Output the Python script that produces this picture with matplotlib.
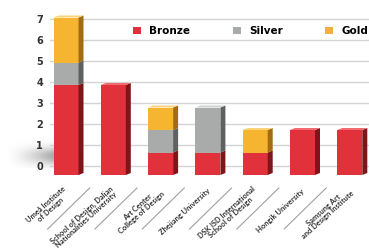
import numpy as np
import matplotlib.pyplot as plt
from matplotlib.patches import Polygon, Rectangle, Patch

# medal counts per school
schools = ['Umeå Institute\nof Design', 'School of Design, Dalian\nNationalities University',
           'Art Center\nCollege of Design', 'Zhejiang University',
           'DSK ISD International\nSchool of Design', 'Hongik University',
           'Samsung Art\nand Design Institute']
bronze = [4, 4, 1, 1, 1, 2, 2]
silver = [1, 0, 1, 2, 0, 0, 0]
gold = [2, 0, 1, 0, 1, 0, 0]
yticks = [0, 1, 2, 3, 4, 5, 6, 7]

# front, side, top colours
cols = {
    'Bronze': ('#e1323b', '#7d161b', '#f06a70'),
    'Silver': ('#a9abab', '#5f6161', '#cfd0d0'),
    'Gold': ('#f6b530', '#a26c12', '#fad27a'),
}

W, H = 369, 252
fig = plt.figure(figsize=(W / 100, H / 100), dpi=100)
fig.patch.set_facecolor('white')

# axes placement in pixels
x_left, y_top, y_bot = 50, 8, 180
pos = [x_left / W, 1 - y_bot / H, 1 - x_left / W, (y_bot - y_top) / H]

# soft shadow to the left of the first bar
sh = fig.add_axes([6 / W, 1 - 168 / H, 50 / W, 32 / H])
gx = np.linspace(0, 1, 60)[None, :] ** 1.4
gy = np.exp(-((np.linspace(-1, 1, 40)[:, None] - 0.25) / 0.55) ** 2)
img = np.zeros((40, 60, 4))
img[..., :3] = 0.45
img[..., 3] = 0.65 * gx * gy
sh.imshow(img, aspect='auto', interpolation='bilinear')
sh.axis('off')

# grid / tick axis
ax = fig.add_axes(pos)
ax.set_facecolor('none')
step = 47.3
ax.set_xlim((x_left - 66) / step, (W - 66) / step)
ax.set_ylim((166 - y_bot) / 21, (166 - y_top) / 21)
for v in yticks:
    ax.axhline(v, color='#d4d4d4', lw=1.0, zorder=0)
ax.set_yticks(yticks)
ax.set_yticklabels([str(v) for v in yticks], fontsize=7, fontweight='bold', color='#333333')
ax.tick_params(axis='y', length=0, pad=5)
ax.set_xticks([])
for s in ax.spines.values():
    s.set_visible(False)

# bars axis (perspective makes the bars a bit taller than the tick scale)
bx = fig.add_axes(pos, sharex=ax)
bx.set_facecolor('none')
bx.set_ylim((175 - y_bot) / 22.5, (175 - y_top) / 22.5)
bx.axis('off')

w = 25 / step
dx, dy = 5 / step, 2 / 22.5
x = np.arange(len(schools))
for i in x:
    base = 0
    segs = [('Bronze', bronze[i]), ('Silver', silver[i]), ('Gold', gold[i])]
    segs = [s for s in segs if s[1] > 0]
    for j, (name, h) in enumerate(segs):
        front, side, top = cols[name]
        x0, x1 = i - w / 2, i + w / 2
        bx.add_patch(Rectangle((x0, base), w, h, facecolor=front, lw=0))
        bx.add_patch(Polygon([(x1, base), (x1 + dx, base + dy), (x1 + dx, base + h + dy), (x1, base + h)],
                             facecolor=side, lw=0))
        if j == len(segs) - 1:
            bx.add_patch(Polygon([(x0, base + h), (x0 + dx, base + h + dy), (x1 + dx, base + h + dy),
                                  (x1, base + h)], facecolor=top, lw=0))
        base += h

# category labels and separators
for i, lab in enumerate(schools):
    ax.text(i + 1 / step, (166 - 190) / 21, lab, rotation=42, rotation_mode='anchor',
            ha='right', va='center', multialignment='center', fontsize=5.4, fontweight='bold',
            family='Lato', color='#333333', linespacing=1.0, clip_on=False)
for i in range(len(schools) - 1):
    xt = i + 0.5
    ax.plot([xt, xt - 42 / step], [(166 - 188) / 21, (166 - 229) / 21],
            color='#a0a0a0', lw=0.8, clip_on=False)

handles = [Patch(facecolor=cols[n][0] if n != 'Gold' else '#f2b040', label=n)
           for n in ['Bronze', 'Silver', 'Gold']]
fig.legend(handles=handles, loc='center left', bbox_to_anchor=(133 / W, 1 - 31 / H),
           ncol=3, frameon=False, handlelength=0.75, handleheight=0.75, handletextpad=0.8,
           columnspacing=4.1, borderpad=0, borderaxespad=0,
           prop={'size': 7.5, 'weight': 'bold'})

fig.savefig('out.png', dpi=100)
